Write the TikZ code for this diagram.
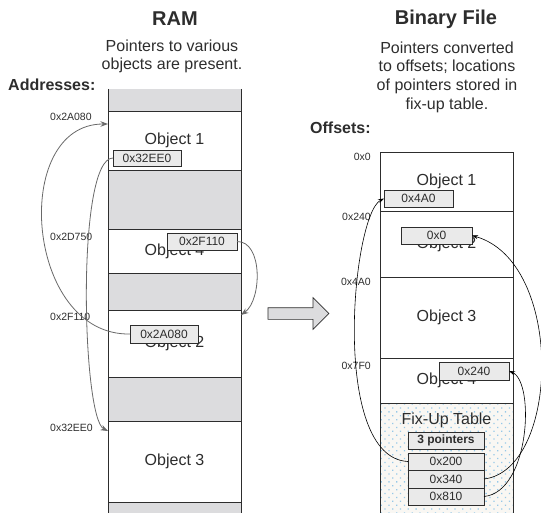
\documentclass[tikz,border=0pt]{standalone}
\usepackage{fontspec}
\setmainfont{Liberation Sans}
\usetikzlibrary{arrows.meta,positioning,shapes.arrows,patterns.meta}

\definecolor{edge}{RGB}{45,45,45}
\definecolor{gapgray}{RGB}{220,220,222}
\definecolor{ptrfill}{RGB}{234,234,234}
\definecolor{linkgray}{RGB}{105,105,105}
\definecolor{fixbg}{RGB}{249,247,243}
\definecolor{dotblue}{RGB}{150,200,232}

\begin{document}
\begin{tikzpicture}[
  x=1pt, y=-1pt,
  font=\fontsize{16}{18}\selectfont, text=edge,
  obj/.style={rectangle, draw=edge, line width=0.8pt, fill=white,
              minimum width=133pt, inner sep=0pt, outer sep=0pt},
  col/.style={rectangle, fill=gapgray, minimum width=133pt,
              inner sep=0pt, outer sep=0pt},
  fixbox/.style={rectangle, draw=edge, line width=0.8pt,
                 minimum width=133pt, minimum height=120pt,
                 inner sep=0pt, outer sep=0pt, preaction={fill=fixbg},
                 pattern={Dots[distance=5.5pt, angle=45, radius=0.9pt]},
                 pattern color=dotblue},
  ptr/.style={rectangle, draw=edge, line width=0.5pt, fill=ptrfill,
              minimum width=69pt, minimum height=17pt, inner sep=0pt,
              outer sep=0pt, font=\fontsize{12}{14}\selectfont},
  tbl/.style={ptr, minimum width=76pt, minimum height=17.5pt},
  addr/.style={font=\fontsize{10.5}{12}\selectfont, inner sep=0pt},
  ttl/.style={font=\fontsize{20}{22}\selectfont\bfseries},
  hdr/.style={font=\fontsize{16}{18}\selectfont\bfseries, inner sep=0pt},
  ramarr/.style={-{Stealth[length=7.5pt,width=5.5pt]}, draw=linkgray,
                 line width=0.8pt},
  binarr/.style={-{Stealth[length=6pt,width=4pt]}, draw=black,
                 line width=0.6pt},
]
\useasboundingbox (0,0) rectangle (541,513);

% RAM side
\node[ttl] (ramttl) at (175,19) {RAM};
\node[align=center] (ramtxt) at (172,56) {Pointers to various\\objects are present.};
\node[hdr, anchor=west] (addrhdr) at (8,85) {Addresses:};

\node[col, minimum height=441pt] (ram) at (174.5,309.5) {};
\draw[edge, line width=0.8pt] (ram.north west) -- (ram.south west);
\draw[edge, line width=0.8pt] (ram.north east) -- (ram.south east);

\node[obj, minimum height=59pt] (ro1) at (174.5,140.5) {Object 1};
\node[obj, minimum height=44pt] (ro4) at (174.5,251) {Object 4};
\node[obj, minimum height=67pt] (ro2) at (174.5,343.5) {Object 2};
\node[obj, minimum height=81pt] (ro3) at (174.5,461.5) {Object 3};

\node[addr, anchor=west] (a2A080) at (50,117) {0x2A080};
\node[addr, anchor=west] (a2D750) at (50,237) {0x2D750};
\node[addr, anchor=west] (a2F110) at (50,317) {0x2F110};
\node[addr, anchor=west] (a32EE0) at (50,428) {0x32EE0};

\node[ptr, minimum width=68pt, minimum height=16pt] (p32EE0) at (147,158) {0x32EE0};
\node[ptr, minimum width=70pt] (p2F110) at (202,241.5) {0x2F110};
\node[ptr, minimum width=68pt, minimum height=18pt] (p2A080) at (164,334) {0x2A080};

\draw[ramarr] (p2A080.west) .. controls (25,336) and (10,124) .. ([yshift=-13pt]ro1.north west);
\draw[ramarr] (p32EE0.west) .. controls (76,158) and (82,418) .. ([yshift=-10pt]ro3.north west);
\draw[ramarr] (p2F110.east) .. controls (263,241) and (262,300) .. ([yshift=-5pt]ro2.north east);

% conversion arrow
\node[single arrow, draw=edge, fill=gapgray, line width=0.7pt,
      inner sep=5.5pt, single arrow head extend=10pt,
      minimum height=61pt] (conv) at (295.5,313.5) {};

% Binary file side
\node[ttl] (binttl) at (446,19) {Binary File};
\node[align=center, font=\fontsize{16}{18.7}\selectfont] (bintxt) at (447,77)
  {Pointers converted\\to offsets; locations\\of pointers stored in\\fix-up table.};
\node[hdr, anchor=west] (offhdr) at (310,128) {Offsets:};

\node[obj, minimum height=59pt] (bo1) at (446.5,181.5) {Object 1};
\node[obj, minimum height=66pt, below=0pt of bo1] (bo2) {Object 2};
\node[obj, minimum height=81pt, below=0pt of bo2] (bo3) {Object 3};
\node[obj, minimum height=45pt, below=0pt of bo3] (bo4) {Object 4};
\node[fixbox, below=0pt of bo4] (fix) {};
\node[inner sep=0pt] (fixttl) at (446.5,420.5) {Fix-Up Table};

\node[addr, anchor=east] (o0)   at (371,157) {0x0};
\node[addr, anchor=east] (o240) at (371,217) {0x240};
\node[addr, anchor=east] (o4A0) at (371,282) {0x4A0};
\node[addr, anchor=east] (o7F0) at (371,366) {0x7F0};

\node[ptr] (p4A0) at (418.5,198.5) {0x4A0};
\node[ptr, minimum width=71pt] (p0) at (436.5,235.5) {0x0};
\node[ptr, minimum width=70pt, minimum height=18pt] (p240) at (474,371) {0x240};

\node[tbl, font=\fontsize{12}{14}\selectfont\bfseries] (cnt) at (446,440.5) {3 pointers};
\node[tbl, below=3.5pt of cnt] (f200) {0x200};
\node[tbl, below=0pt of f200] (f340) {0x340};
\node[tbl, below=0pt of f340] (f810) {0x810};

\draw[binarr] (f200.west) .. controls (330,458) and (352,215) .. (p4A0.west);
\draw[binarr] (f340.east) .. controls (560,470) and (565,262) .. (p0.east);
\draw[binarr] (f810.east) .. controls (530,492) and (535,382) .. (p240.east);

\end{tikzpicture}
\end{document}
